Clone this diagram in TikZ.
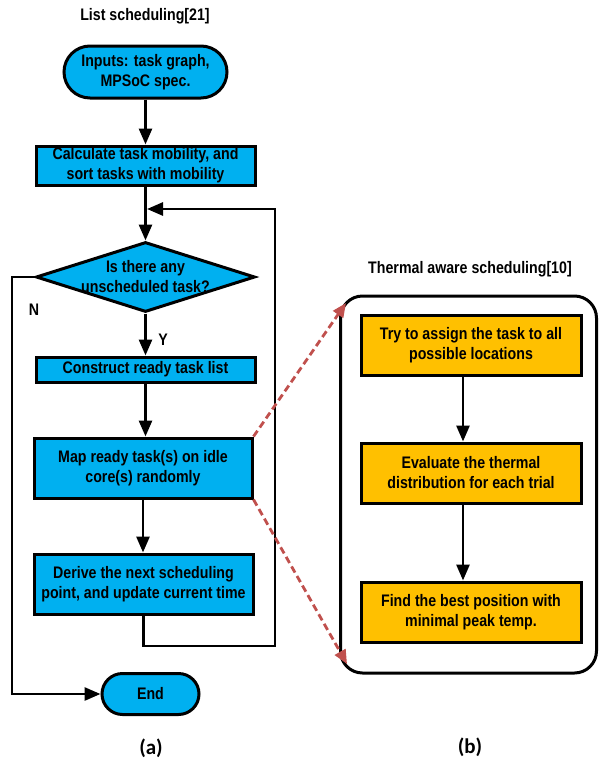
\documentclass[tikz,border=0pt]{standalone}
\usepackage{fontspec}
\setmainfont{Liberation Sans}[FakeStretch=0.85]
\newfontfamily\capfont{Carlito}
\usetikzlibrary{arrows.meta,shapes.geometric}
\definecolor{skyb}{HTML}{00B0F0}
\definecolor{amber}{HTML}{FFC000}
\definecolor{redd}{HTML}{C0504D}
\begin{document}
\begin{tikzpicture}[x=1pt,y=-1pt,
  every node/.style={font=\fontsize{16.7}{20}\selectfont\bfseries, align=center, inner sep=0pt},
  box/.style={draw, line width=3pt, fill=skyb, minimum width=219pt},
  obox/.style={draw, line width=3pt, fill=amber, minimum width=220pt, minimum height=60pt},
  term/.style={draw, line width=3pt, fill=skyb},
  arr/.style={line width=2.8pt, -{Triangle[length=16pt,width=13pt]}},
  reddash/.style={draw=redd, line width=2.8pt, dash pattern=on 7pt off 4pt, -{Triangle[length=14pt,width=12pt,fill=redd]}},
  figcap/.style={font=\capfont\fontsize{21}{24}\selectfont\bfseries}
]
\useasboundingbox (0,0) rectangle (598,761);
% left chart
\node (t0) at (145,16) {List scheduling[21]};
\node[term, minimum width=163pt, minimum height=52pt, rounded corners=26pt] (start) at (145.5,72) {Inputs: task graph,\\MPSoC spec.};
\node[box, minimum height=39pt] (calc) at (145.5,165.5) {Calculate task mobility, and\\sort tasks with mobility};
\node[draw, line width=3pt, fill=skyb, diamond, minimum width=219pt, minimum height=70pt] (dec) at (145.5,277) {};
\node (dect) at (dec.center) {Is there any\\unscheduled task?};
\node[box, minimum height=25pt] (cons) at (145.5,369.5) {Construct ready task list};
\node[box, minimum width=218pt, minimum height=60pt] (map) at (143,468) {Map ready task(s) on idle\\core(s) randomly};
\node[box, minimum height=60pt] (der) at (143.5,584) {Derive the next scheduling\\point, and update current time};
\node[term, minimum width=97pt, minimum height=41pt, rounded corners=20.5pt] (endn) at (150.5,694) {End};
\node (ylab) at (163,340) {Y};
\node (nlab) at (34,310) {N};
\node[figcap] (la) at (151,748) {(a)};
% left connectors
\coordinate (rb) at (275,646);
\coordinate (rt) at (275,209);
\coordinate (jn) at (147,209);
\coordinate (nl) at (12,277);
\draw[arr] (start.south) -- (start.south |- calc.north);
\draw[arr] (calc.south) -- (calc.south |- dec.north);
\draw[arr] (der.south) |- (rb) -- (rt) -- (jn);
\draw[arr] (dec.west) -- (nl) |- (endn.west);
\draw[arr] (dec.south) -- (dec.south |- cons.north);
\draw[arr] (cons.south) -- (cons.south |- map.north);
\draw[arr] (map.south) -- (map.south |- der.north);
% right chart
\node (t1) at (470,269) {Thermal aware scheduling[10]};
\node[draw, line width=3pt, rounded corners=22pt, minimum width=256pt, minimum height=377pt] (big) at (468.5,484.5) {};
\node[obox] (s1) at (471,345) {Try to assign the task to all\\possible locations};
\node[obox] (s2) at (471,473) {Evaluate the thermal\\distribution for each trial};
\node[obox] (s3) at (471,612) {Find the best position with\\minimal peak temp.};
\draw[arr] ([xshift=-8pt]s1.south) -- ([xshift=-8pt]s2.north);
\draw[arr] ([xshift=-8pt]s2.south) -- ([xshift=-8pt]s3.north);
\node[figcap] (lb) at (470,747) {(b)};
\coordinate (ra) at (346,303);
\coordinate (rc) at (347,664);
\draw[reddash] (map.north east) -- (ra);
\draw[reddash] (map.south east) -- (rc);
\end{tikzpicture}
\end{document}
